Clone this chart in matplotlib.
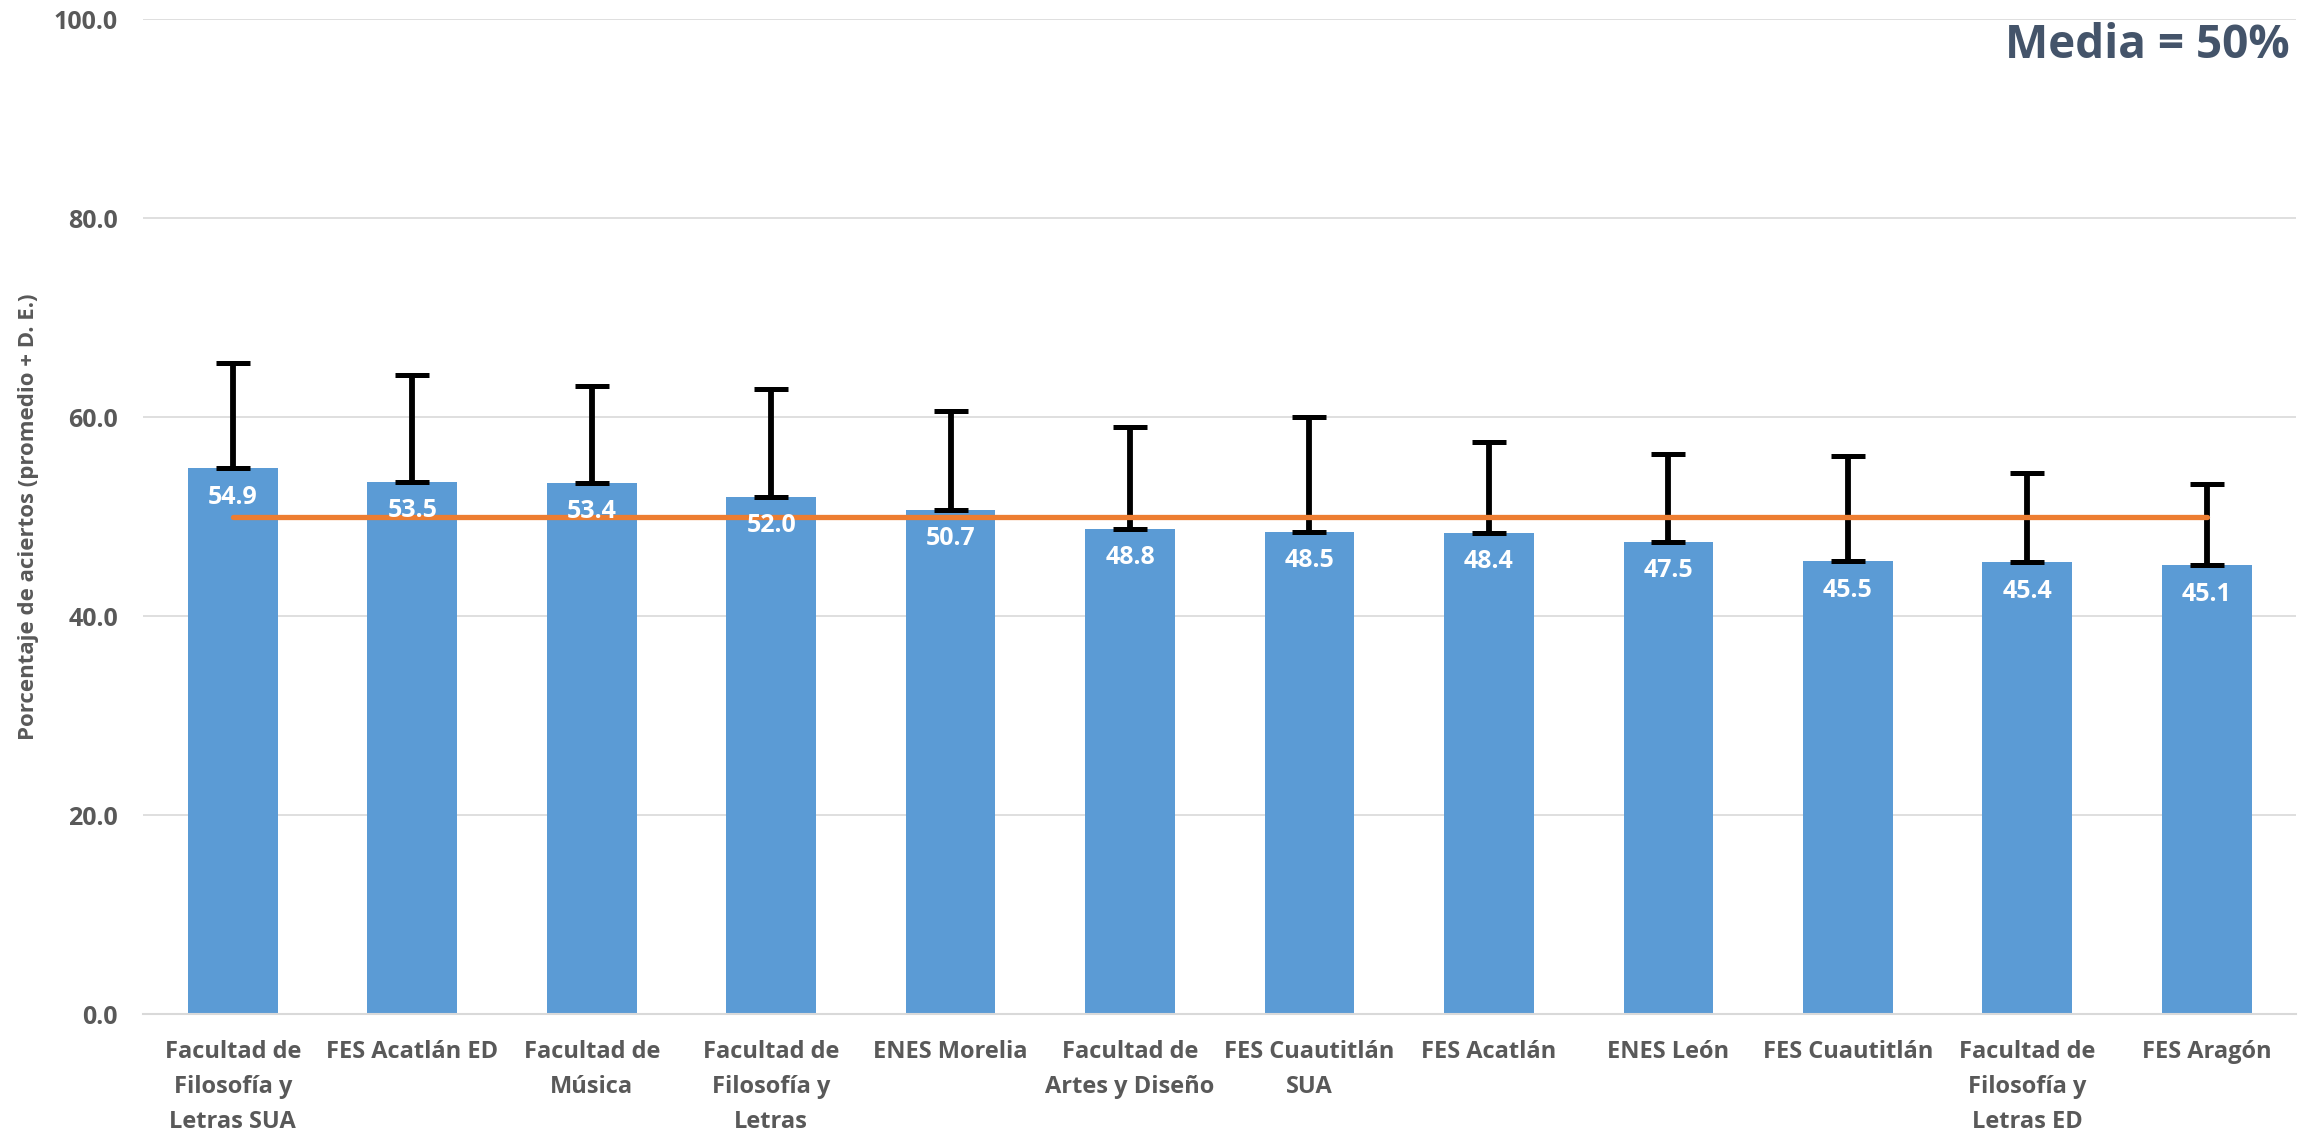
import matplotlib
matplotlib.use("Agg")
import matplotlib.pyplot as plt
import numpy as np

# ---- data ----
categories = [
    "Facultad de\nFilosofía y\nLetras SUA",
    "FES Acatlán ED",
    "Facultad de\nMúsica",
    "Facultad de\nFilosofía y\nLetras",
    "ENES Morelia",
    "Facultad de\nArtes y Diseño",
    "FES Cuautitlán\nSUA",
    "FES Acatlán",
    "ENES León",
    "FES Cuautitlán",
    "Facultad de\nFilosofía y\nLetras ED",
    "FES Aragón",
]
promedio = [54.9, 53.5, 53.4, 52.0, 50.7, 48.8, 48.5, 48.4, 47.5, 45.5, 45.4, 45.1]
desv_est = [10.5, 10.75, 9.7, 10.8, 9.9, 10.2, 11.5, 9.1, 8.75, 10.6, 9.0, 8.2]
media = [50, 50, 50, 50, 50, 50, 50, 50, 50, 50, 50, 50]
yticks = [0, 20, 40, 60, 80, 100]
ylabel = "Porcentaje de aciertos (promedio + D. E.)"
note = "Media = 50%"

# ---- style ----
FONT = ["Open Sans", "DejaVu Sans"]
plt.rcParams["font.family"] = FONT
GREY = "#595959"
BAR = "#5B9BD5"
ORANGE = "#ED7D31"
GRID = "#D9D9D9"

fig = plt.figure(figsize=(23.15, 11.33), dpi=100)
ax = fig.add_axes([0.0618, 0.105, 0.9302, 0.878])

x = np.arange(len(categories))
ax.bar(x, promedio, width=0.5, color=BAR, zorder=2)
ax.errorbar(x, promedio, yerr=[np.zeros(len(desv_est)), desv_est], fmt="none",
            ecolor="black", elinewidth=4.2, capsize=12, capthick=3.6, zorder=3)
ax.plot(x, media, color=ORANGE, linewidth=3.8, solid_capstyle="round", zorder=4)

for xi, v in zip(x, promedio):
    ax.annotate(f"{v:.1f}", xy=(xi, v), xytext=(0, -21), textcoords="offset points",
                ha="center", va="center", color="white", fontsize=18,
                fontweight="bold", zorder=5)

ax.set_xlim(-0.5, len(categories) - 0.5)
ax.set_ylim(0, 100)
ax.set_yticks(yticks)
ax.set_yticklabels([f"{t:.1f}" for t in yticks])
ax.set_xticks(x)
ax.set_xticklabels(categories, linespacing=1.6)

ax.grid(axis="y", color=GRID, linewidth=1.2, zorder=0)
ax.set_axisbelow(True)
for s in ["top", "right", "left"]:
    ax.spines[s].set_visible(False)
ax.spines["bottom"].set_color(GRID)
ax.spines["bottom"].set_linewidth(1.5)

ax.tick_params(axis="both", length=0)
ax.tick_params(axis="x", pad=19, labelsize=17, labelcolor=GREY)
ax.tick_params(axis="y", pad=18, labelsize=18, labelcolor=GREY)
for lab in ax.get_xticklabels() + ax.get_yticklabels():
    lab.set_fontweight("bold")

fig.text(0.0125, 0.105 + 0.878 / 2, ylabel, rotation=90, ha="center", va="center",
         fontsize=16, fontweight="bold", color=GREY)
fig.text(0.989, 1 - 46 / 1133, note, ha="right", va="center", fontsize=33,
         fontweight="bold", color="#44546A")

fig.savefig("out.png", dpi=100)
